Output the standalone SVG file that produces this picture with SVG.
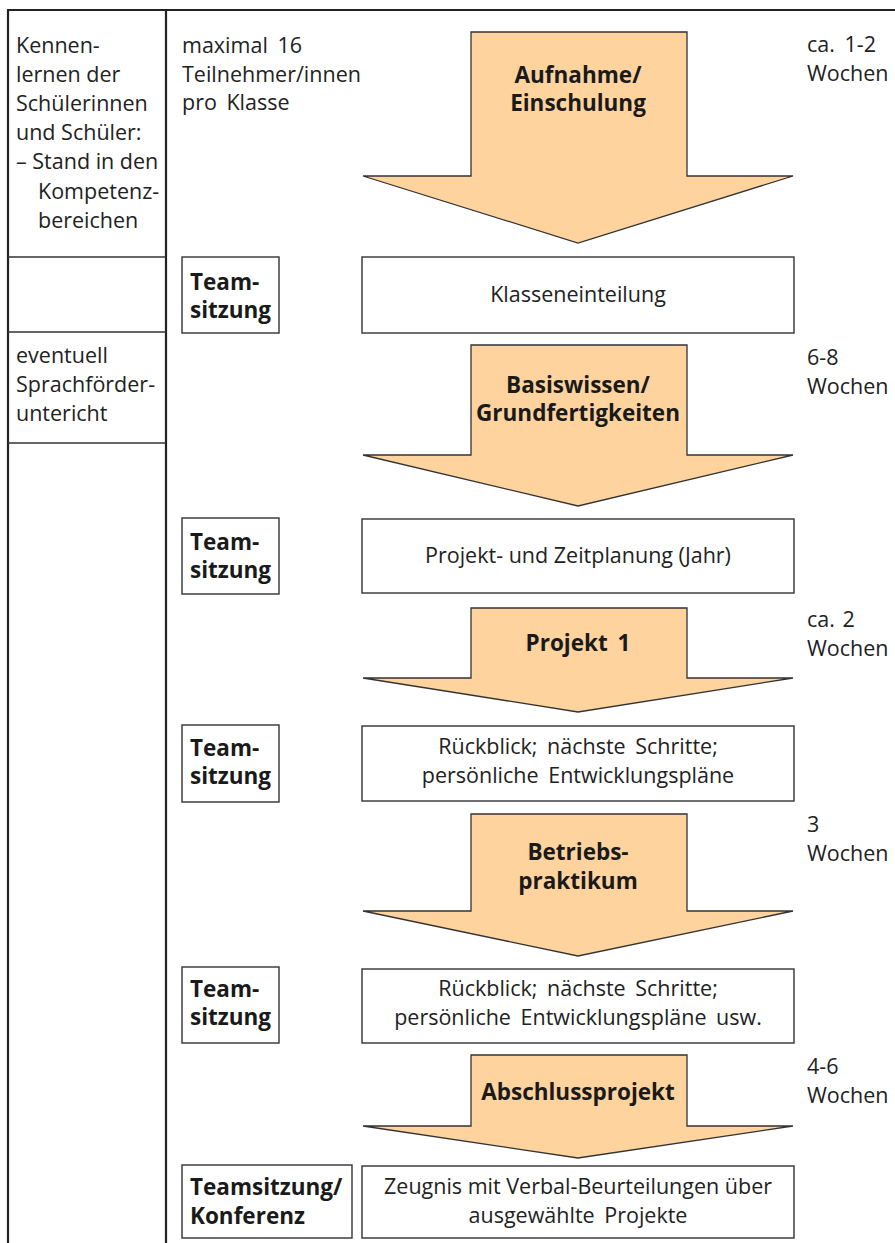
<svg xmlns="http://www.w3.org/2000/svg" width="895" height="1243" viewBox="0 0 895 1243">
<style>
.t{font-family:"Open Sans","Noto Sans",sans-serif;font-size:21.5px;fill:#222}
.b{font-family:"Open Sans","Noto Sans",sans-serif;font-size:22.5px;font-weight:700;fill:#1a1a1a}
.c{text-anchor:middle}
.frame{stroke:#222;stroke-width:2.2;fill:none}
.div{stroke:#333;stroke-width:1.4;fill:none}
.box{fill:#fff;stroke:#333;stroke-width:1.4}
.arrow{fill:#FED39E;stroke:#333;stroke-width:1.3;stroke-linejoin:miter}
</style>
<rect width="895" height="1243" fill="#fff"/>
<g id="frame">
<line class="frame" x1="7" y1="10" x2="895" y2="10"/>
<line class="frame" x1="8" y1="9" x2="8" y2="1243"/>
<line class="frame" x1="166" y1="9" x2="166" y2="1243"/>
<line class="div" x1="8" y1="257" x2="166" y2="257"/>
<line class="div" x1="8" y1="332" x2="166" y2="332"/>
<line class="div" x1="8" y1="443" x2="166" y2="443"/>
</g>
<g id="left-col">
<text class="t" x="16" y="53">Kennen-</text>
<text class="t" x="16" y="82">lernen der</text>
<text class="t" x="16" y="111">Schülerinnen</text>
<text class="t" x="16" y="140">und Schüler:</text>
<text class="t" x="16" y="169">– Stand in den</text>
<text class="t" x="38" y="199">Kompetenz-</text>
<text class="t" x="38" y="228">bereichen</text>
<text class="t" x="16" y="363">eventuell</text>
<text class="t" x="16" y="392">Sprachförder-</text>
<text class="t" x="16" y="421">untericht</text>
</g>
<g id="note-participants">
<text class="t" x="182" y="53" style="word-spacing:4px">maximal 16</text>
<text class="t" x="182" y="82">Teilnehmer/innen</text>
<text class="t" x="182" y="110" style="word-spacing:4px">pro Klasse</text>
</g>
<g id="durations">
<text class="t" x="807" y="52" style="word-spacing:4px">ca. 1-2</text>
<text class="t" x="807" y="81">Wochen</text>
<text class="t" x="807" y="365">6-8</text>
<text class="t" x="807" y="394">Wochen</text>
<text class="t" x="807" y="627" style="word-spacing:2px">ca. 2</text>
<text class="t" x="807" y="656">Wochen</text>
<text class="t" x="807" y="832">3</text>
<text class="t" x="807" y="861">Wochen</text>
<text class="t" x="807" y="1074">4-6</text>
<text class="t" x="807" y="1103">Wochen</text>
</g>
<g id="connectors">
<g id="arrow-aufnahme">
<polygon class="arrow" points="471,32 687,32 687,176 793,176 578,243 363,176 471,176"/>
<text class="b c" x="578" y="83">Aufnahme/</text>
<text class="b c" x="578" y="111">Einschulung</text>
</g>
<g id="arrow-basiswissen">
<polygon class="arrow" points="471,345 687,345 687,455 793,455 578,506 363,455 471,455"/>
<text class="b c" x="578" y="393">Basiswissen/</text>
<text class="b c" x="578" y="421">Grundfertigkeiten</text>
</g>
<g id="arrow-projekt1">
<polygon class="arrow" points="471,608 687,608 687,678 793,678 578,712 363,678 471,678"/>
<text class="b c" x="578" y="651" style="word-spacing:4px">Projekt 1</text>
</g>
<g id="arrow-betriebspraktikum">
<polygon class="arrow" points="471,814 687,814 687,911 793,911 578,956 363,911 471,911"/>
<text class="b c" x="578" y="860">Betriebs-</text>
<text class="b c" x="578" y="889">praktikum</text>
</g>
<g id="arrow-abschlussprojekt">
<polygon class="arrow" points="471,1055 687,1055 687,1126 793,1126 578,1158 363,1126 471,1126"/>
<text class="b c" x="578" y="1100">Abschlussprojekt</text>
</g>
</g>
<g id="team1">
<rect class="box" x="182" y="257" width="97" height="76"/>
<text class="b" x="190" y="290">Team-</text>
<text class="b" x="190" y="318">sitzung</text>
</g>
<g id="klasseneinteilung">
<rect class="box" x="362" y="257" width="432" height="76"/>
<text class="t c" x="578" y="302">Klasseneinteilung</text>
</g>
<g id="team2">
<rect class="box" x="182" y="518" width="97" height="76"/>
<text class="b" x="190" y="550">Team-</text>
<text class="b" x="190" y="578">sitzung</text>
</g>
<g id="projektplanung">
<rect class="box" x="362" y="519" width="432" height="74"/>
<text class="t c" x="578" y="563">Projekt- und Zeitplanung (Jahr)</text>
</g>
<g id="team3">
<rect class="box" x="182" y="725" width="97" height="77"/>
<text class="b" x="190" y="756">Team-</text>
<text class="b" x="190" y="784">sitzung</text>
</g>
<g id="rueckblick1">
<rect class="box" x="362" y="726" width="432" height="75"/>
<text class="t c" x="578" y="754" style="word-spacing:4px">Rückblick; nächste Schritte;</text>
<text class="t c" x="578" y="783" style="word-spacing:4px">persönliche Entwicklungspläne</text>
</g>
<g id="team4">
<rect class="box" x="182" y="967" width="97" height="76"/>
<text class="b" x="190" y="997">Team-</text>
<text class="b" x="190" y="1025">sitzung</text>
</g>
<g id="rueckblick2">
<rect class="box" x="362" y="969" width="432" height="74"/>
<text class="t c" x="578" y="996" style="word-spacing:4px">Rückblick; nächste Schritte;</text>
<text class="t c" x="578" y="1025" style="word-spacing:4px">persönliche Entwicklungspläne usw.</text>
</g>
<g id="konferenz">
<rect class="box" x="182" y="1165" width="170" height="73"/>
<text class="b" x="190" y="1195">Teamsitzung/</text>
<text class="b" x="190" y="1224">Konferenz</text>
</g>
<g id="zeugnis">
<rect class="box" x="362" y="1166" width="432" height="72"/>
<text class="t c" x="578" y="1194">Zeugnis mit Verbal-Beurteilungen über</text>
<text class="t c" x="578" y="1223" style="word-spacing:4px">ausgewählte Projekte</text>
</g>
</svg>
